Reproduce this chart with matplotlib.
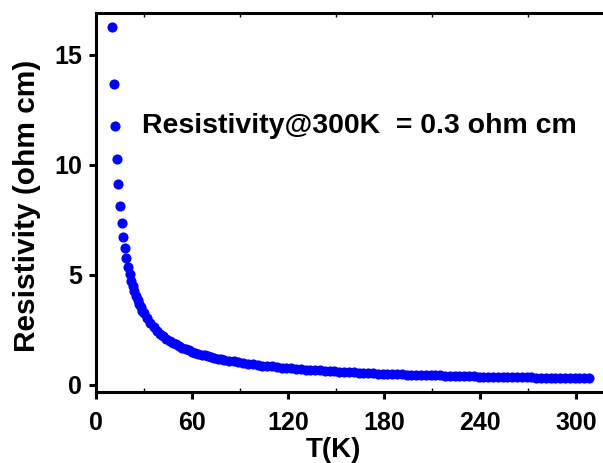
import matplotlib.pyplot as plt
from matplotlib.ticker import MultipleLocator

plt.rcParams["font.family"] = "Liberation Sans"
plt.rcParams["font.weight"] = "bold"

# temperature (K) and resistivity (ohm cm)
temp = [10, 11, 12, 13, 14, 15, 16, 17, 18, 19, 20,
        21, 22, 23, 24, 25, 26, 27, 28, 29, 30,
        32, 34, 36, 38, 40, 42, 44, 46, 48, 50,
        52, 54, 56, 58, 60, 62, 64, 66, 68, 70,
        72, 74, 76, 78, 80,
        83, 86, 89, 92, 95, 98, 101, 104, 107, 110,
        113, 116, 119, 122, 125, 128, 131, 134, 137, 140,
        143, 146, 149, 152, 155, 158, 161, 164, 167, 170,
        173, 176, 179, 182, 185, 188, 191, 194, 197, 200,
        203, 206, 209, 212, 215, 218, 221, 224, 227, 230,
        233, 236, 239, 242, 245, 248, 251, 254, 257, 260,
        263, 266, 269, 272, 275, 278, 281, 284, 287, 290,
        293, 296, 299, 302, 305, 308]
rho = [16.27, 13.69, 11.77, 10.28, 9.11, 8.14, 7.38, 6.74, 6.20, 5.75, 5.36,
       5.03, 4.74, 4.48, 4.25, 4.04, 3.85, 3.68, 3.52, 3.38, 3.25,
       3.02, 2.81, 2.63, 2.47, 2.32, 2.21, 2.10, 2.00, 1.92, 1.84,
       1.76, 1.69, 1.63, 1.57, 1.52, 1.47, 1.42, 1.38, 1.34, 1.30,
       1.26, 1.23, 1.20, 1.17, 1.14,
       1.11, 1.07, 1.03, 1.00, 0.97, 0.94, 0.91, 0.88, 0.86, 0.84,
       0.81, 0.79, 0.77, 0.75, 0.74, 0.72, 0.70, 0.69, 0.67, 0.66,
       0.64, 0.63, 0.62, 0.61, 0.59, 0.58, 0.57, 0.56, 0.55, 0.54,
       0.53, 0.52, 0.51, 0.51, 0.50, 0.49, 0.48, 0.47, 0.47, 0.46,
       0.45, 0.45, 0.44, 0.43, 0.43, 0.42, 0.42, 0.41, 0.41, 0.40,
       0.39, 0.39, 0.38, 0.38, 0.38, 0.37, 0.37, 0.36, 0.36, 0.35,
       0.35, 0.35, 0.34, 0.34, 0.33, 0.33, 0.33, 0.32, 0.32, 0.32,
       0.31, 0.31, 0.31, 0.30, 0.30, 0.30]

fig = plt.figure(figsize=(6.03, 4.63), dpi=100)
ax = fig.add_axes([96 / 603, 71 / 463, 509 / 603, 379 / 463])

ax.plot(temp, rho, 'o', color='#0000FF', ms=7.3, mec='none')

ax.set_xlim(0, 318)
ax.set_ylim(-0.32, 16.9)
ax.xaxis.set_major_locator(MultipleLocator(60))
ax.xaxis.set_minor_locator(MultipleLocator(30))
ax.yaxis.set_major_locator(MultipleLocator(5))
ax.yaxis.set_minor_locator(MultipleLocator(2.5))

for s in ax.spines.values():
    s.set_linewidth(2.2)
ax.tick_params(which='major', direction='out', length=5, width=2.2,
               labelsize=18)
ax.tick_params(axis='x', which='major', pad=9)
ax.tick_params(axis='y', which='major', pad=5)
ax.tick_params(which='minor', direction='in', length=3, width=1)
ax.tick_params(axis='y', which='minor', left=False)
ax.tick_params(axis='x', which='minor', top=True)
for lab in ax.get_xticklabels() + ax.get_yticklabels():
    lab.set_fontweight('bold')

ax.set_xlabel('T(K)', fontsize=20, fontweight='bold')
ax.xaxis.set_label_coords(0.467, -0.118)
ax.set_ylabel('Resistivity (ohm cm)', fontsize=21.5, fontweight='bold')
ax.yaxis.set_label_coords(-0.108, 0.49)

ax.text(28.8, 11.45, 'Resistivity@300K  = 0.3 ohm cm', fontsize=20.5,
        fontweight='bold', va='baseline', ha='left')

fig.savefig('out.png', dpi=100)
